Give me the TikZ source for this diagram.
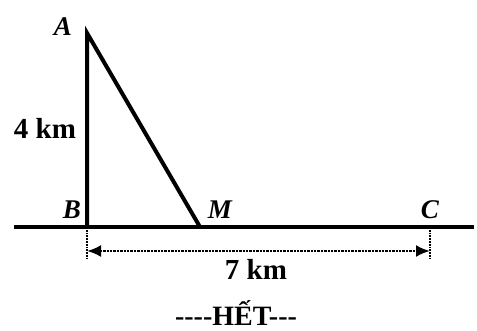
\documentclass[tikz,border=0pt]{standalone}
\usepackage{fontspec}
\setmainfont{Liberation Serif}
\usetikzlibrary{arrows.meta}
\tikzset{
	trait/.style={line width=4pt},
	lettre/.style={font=\fontsize{27}{30}\selectfont\bfseries\itshape},
	mesure/.style={font=\fontsize{29}{32}\selectfont\bfseries}
}
\begin{document}
\begin{tikzpicture}[x=1pt,y=-1pt]
	\useasboundingbox (0,0) rectangle (477,331);
	%les points
	\coordinate (A) at (87,33);
	\coordinate (B) at (87,227);
	\coordinate (M) at (200,227);
	\coordinate (C) at (430,227);
	\coordinate (g) at (14,227); %bout gauche de la route
	\coordinate (d) at (474,227); %bout droit
	\coordinate (Bb) at (87,251);
	\coordinate (Cb) at (430,251);
	%la route et le triangle
	\draw[trait] (g) -- (d);
	\draw[trait, line join=miter] (B) -- (A) -- (M);
	%noms des points
	\node[lettre] (nA) at (63,27) {A};
	\node[lettre] (nB) at (72,210) {B};
	\node[lettre] (nM) at (220,210) {M};
	\node[lettre] (nC) at (430,210) {C};
	%la cote BC
	\draw[densely dotted, line width=1.8pt] (B) -- ++(0,32);
	\draw[densely dotted, line width=1.8pt] (C) -- ++(0,32);
	\draw[densely dotted, line width=2.4pt, {Latex[length=14pt,width=12pt]}-{Latex[length=14pt,width=12pt]}] (Bb) -- (Cb);
	\node[mesure] (BC) at (256,269) {7 km};
	\node[mesure] (AB) at (45,128) {4 km};
	%fin
	\node[font=\fontsize{28}{32}\selectfont\bfseries] (fin) at (236,313) {{-}{-}{-}{-}HẾT{-}{-}{-}};
\end{tikzpicture}
\end{document}
